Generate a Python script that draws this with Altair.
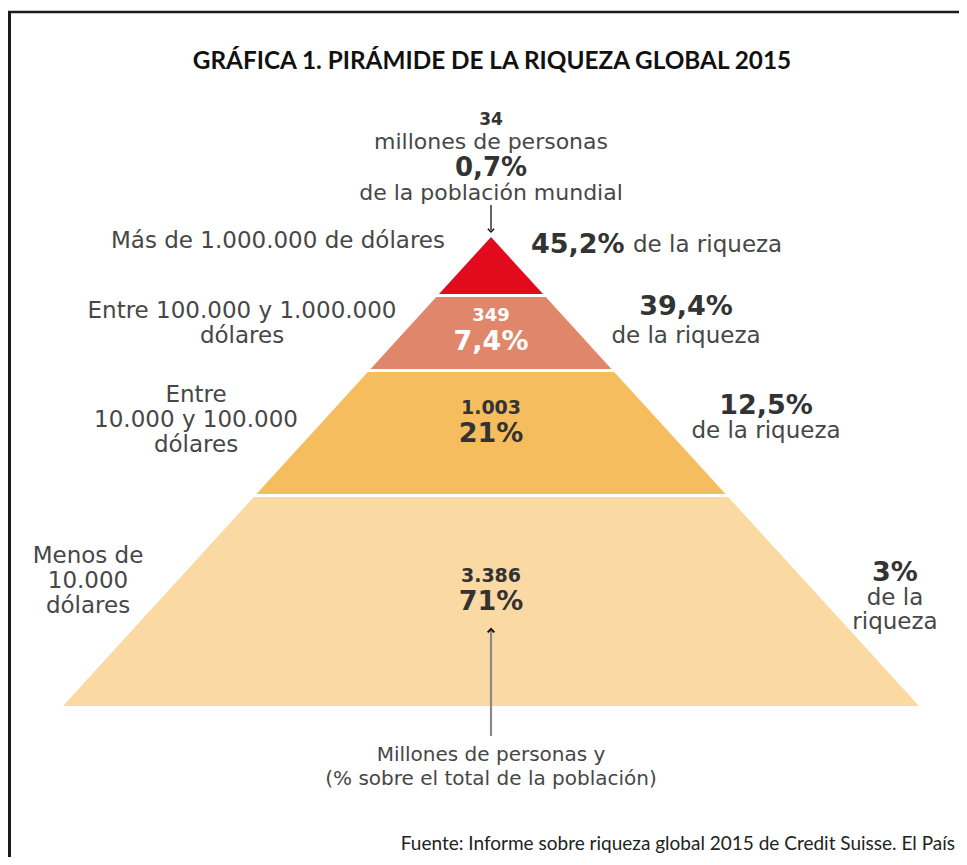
import altair as alt
import pandas as pd

# ---------------- data ----------------
title_text = "GRÁFICA 1. PIRÁMIDE DE LA RIQUEZA GLOBAL 2015"
source_text = "Fuente: Informe sobre riqueza global 2015 de Credit Suisse. El País"

tiers = [
    "Más de 1.000.000 de dólares",
    "Entre 100.000 y 1.000.000 dólares",
    "Entre 10.000 y 100.000 dólares",
    "Menos de 10.000 dólares",
]
tier_label_lines = [
    "Más de 1.000.000 de dólares",
    "Entre 100.000 y 1.000.000\ndólares",
    "Entre\n10.000 y 100.000\ndólares",
    "Menos de\n10.000\ndólares",
]
people_millions = ["34", "349", "1.003", "3.386"]
population_share = ["0,7%", "7,4%", "21%", "71%"]
wealth_share = ["45,2%", "39,4%", "12,5%", "3%"]
wealth_suffix = ["de la riqueza", "de la riqueza", "de la riqueza", "de la\nriqueza"]
top_caption = ["millones de personas", "de la población mundial"]
bottom_caption = "Millones de personas y\n(% sobre el total de la población)"
tier_colors = ["#E20A1D", "#E0876B", "#F6BD5F", "#FAD9A3"]

# ---------------- layout ----------------
W, H = 951, 849
X0, Y0 = 8, 8
APEX_X, APEX_Y, BASE_Y, BASE_HALF = 491, 237, 706, 428
BOUNDS = [237, 294, 369, 494, 706]
GAP = 3

xs = alt.Scale(domain=[X0, X0 + W], nice=False, zero=False)
ys = alt.Scale(domain=[Y0, Y0 + H], nice=False, zero=False, reverse=True)


def half(y):
    return (y - APEX_Y) / (BASE_Y - APEX_Y) * BASE_HALF


rows = []
for i, t in enumerate(tiers):
    top = BOUNDS[i] + (GAP if i > 0 else 0)
    bot = BOUNDS[i + 1]
    for y in (top, bot):
        rows.append({"tier": t, "y": y, "xl": APEX_X - half(y), "xr": APEX_X + half(y)})
area_df = pd.DataFrame(rows)

pyramid = alt.Chart(area_df).mark_area(orient="horizontal").encode(
    y=alt.Y("y:Q", scale=ys, axis=None),
    x=alt.X("xl:Q", scale=xs, axis=None, stack=None),
    x2="xr:Q",
    color=alt.Color("tier:N", scale=alt.Scale(domain=tiers, range=tier_colors), legend=None),
    detail="tier:N",
)

GREY = "#474747"
DARK = "#333333"
REG = 23

# text rows (y = first line)
reg_center = [
    (top_caption[0], 491, 142, 22, GREY),
    (top_caption[1], 491, 193, 22, GREY),
    (tier_label_lines[0], 278, 241, REG, GREY),
    (tier_label_lines[1], 242, 311, REG, GREY),
    (tier_label_lines[2], 196, 395, REG, GREY),
    (tier_label_lines[3], 88, 556, REG, GREY),
    (wealth_suffix[1], 686, 336, REG, GREY),
    (wealth_suffix[2], 766, 431, REG, GREY),
]
reg_center_tight = [
    (wealth_suffix[3], 895, 598, REG, GREY),
]
reg_left = [
    (wealth_suffix[0], 633, 245, REG, GREY),
]
bold_center = [
    (people_millions[0], 491, 120, 17, DARK),
    (population_share[0], 491, 168, 26, DARK),
    (people_millions[1], 491, 316, 18, "#FFFFFF"),
    (population_share[1], 491, 342, 27, "#FFFFFF"),
    (people_millions[2], 491, 408, 19, DARK),
    (population_share[2], 491, 434, 27, DARK),
    (people_millions[3], 491, 576, 19, DARK),
    (population_share[3], 491, 602, 27, DARK),
    (wealth_share[1], 686, 307, 27, DARK),
    (wealth_share[2], 766, 406, 27, DARK),
    (wealth_share[3], 895, 573, 27, DARK),
]
bold_left = [
    (wealth_share[0], 531, 245, 27, DARK),
]
caption_rows = [(bottom_caption, 491, 755, 20, GREY)]


def text_layer(items, weight, align, font="DejaVu Sans", line_height=25):
    df = pd.DataFrame(items, columns=["text", "x", "y", "size", "color"])
    return alt.Chart(df).mark_text(
        font=font, fontWeight=weight, align=align, baseline="middle",
        lineBreak="\n", lineHeight=line_height,
    ).encode(
        x=alt.X("x:Q", scale=xs, axis=None),
        y=alt.Y("y:Q", scale=ys, axis=None),
        text="text:N",
        size=alt.Size("size:Q", scale=None, legend=None),
        color=alt.Color("color:N", scale=None, legend=None),
    )


texts = [
    text_layer(reg_center, "normal", "center"),
    text_layer(reg_center_tight, "normal", "center", line_height=24),
    text_layer(reg_left, "normal", "left"),
    text_layer(bold_center, "bold", "center"),
    text_layer(bold_left, "bold", "left"),
    text_layer(caption_rows, "normal", "center", line_height=24),
    text_layer([(title_text, 492, 62, 24.3, "#111111")], "bold", "center", font="Lato"),
    text_layer([(source_text, 955, 844, 19, "#222222")], "normal", "right", font="Lato"),
]

# frame lines
frame_df = pd.DataFrame([
    {"x": X0, "x2": X0 + W, "y": 12, "y2": 12, "w": 2.5},
    {"x": 9.5, "x2": 9.5, "y": 11, "y2": Y0 + H, "w": 3},
])
frame = alt.Chart(frame_df).mark_rule(color="#1a1a1a").encode(
    x=alt.X("x:Q", scale=xs, axis=None), x2="x2:Q",
    y=alt.Y("y:Q", scale=ys, axis=None), y2="y2:Q",
    strokeWidth=alt.StrokeWidth("w:Q", scale=None, legend=None),
)

# arrows
arrow_df = pd.DataFrame([
    {"x": 491, "y": 205, "y2": 230, "c": "#111111", "w": 1.3},
    {"x": 491, "y": 631, "y2": 736, "c": "#8a8a8a", "w": 2.2},
])
arrow_lines = alt.Chart(arrow_df).mark_rule().encode(
    x=alt.X("x:Q", scale=xs, axis=None),
    y=alt.Y("y:Q", scale=ys, axis=None), y2="y2:Q",
    color=alt.Color("c:N", scale=None, legend=None),
    strokeWidth=alt.StrokeWidth("w:Q", scale=None, legend=None),
)
head_down = alt.Chart(pd.DataFrame([{"x": 491, "y": 232}])).mark_point(
    shape="M -1 -1 L 0 0 L 1 -1", filled=False, color="#111111", strokeWidth=1.4, size=40, opacity=1
).encode(x=alt.X("x:Q", scale=xs, axis=None), y=alt.Y("y:Q", scale=ys, axis=None))
head_up = alt.Chart(pd.DataFrame([{"x": 491, "y": 629}])).mark_point(
    shape="M -1 1 L 0 0 L 1 1", filled=False, color="#111111", strokeWidth=2, size=45, opacity=1
).encode(x=alt.X("x:Q", scale=xs, axis=None), y=alt.Y("y:Q", scale=ys, axis=None))

chart = alt.layer(frame, pyramid, arrow_lines, head_down, head_up, *texts).properties(
    width=W, height=H, padding=0, autosize=alt.AutoSizeParams(type="none"),
    background="#FFFFFF",
).configure_view(stroke=None)

chart.save("out.html", embed_options={"renderer": "svg", "actions": False})
